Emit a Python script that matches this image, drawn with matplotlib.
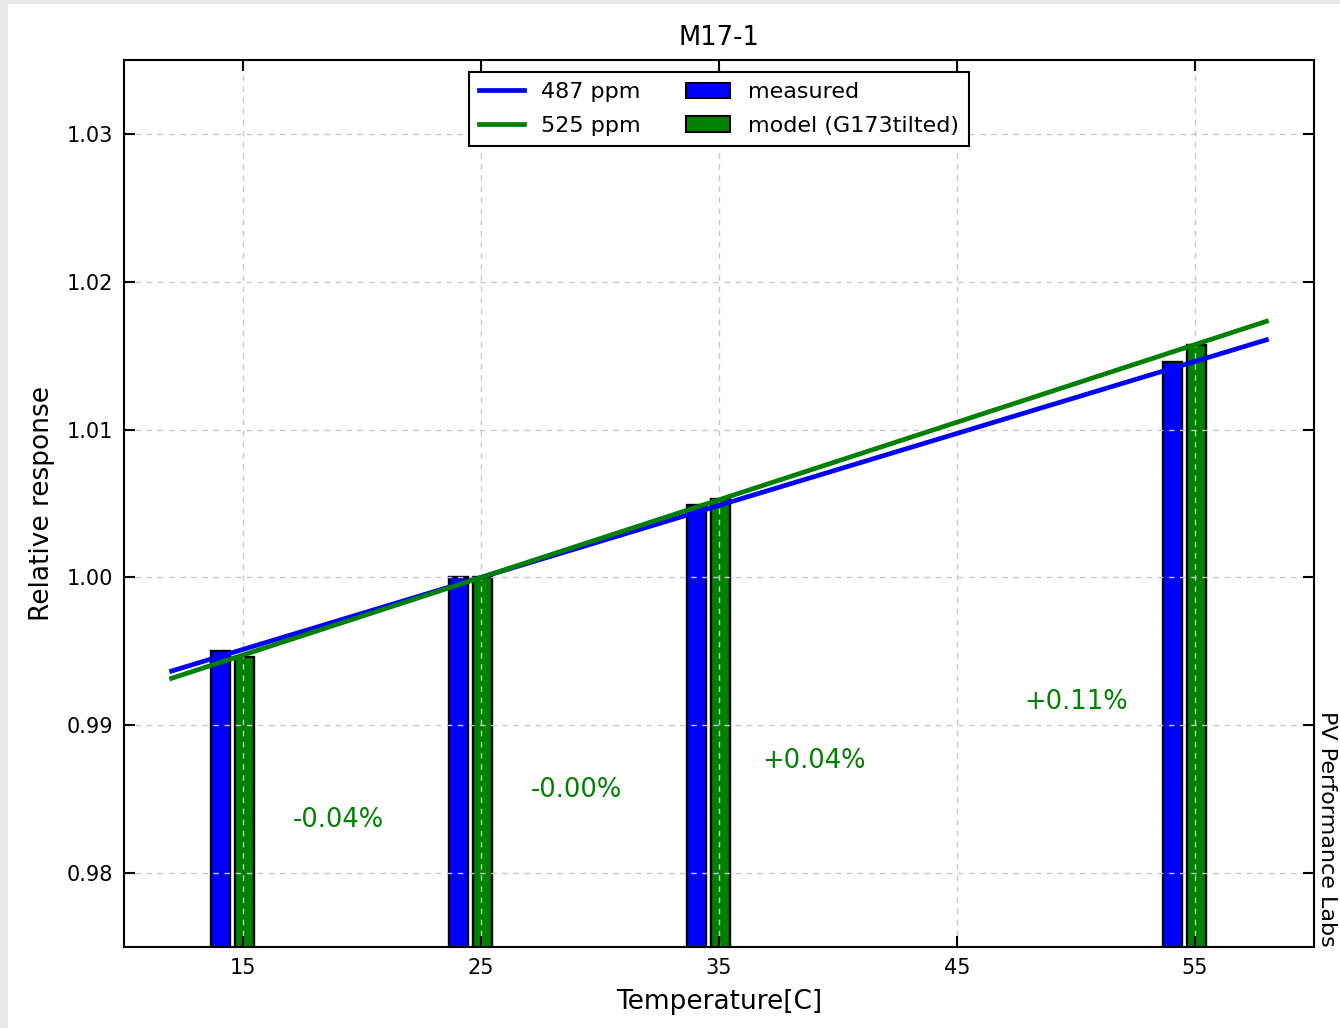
import numpy as np
import matplotlib
matplotlib.use("Agg")
import matplotlib.pyplot as plt
from matplotlib.patches import Rectangle, Patch
from matplotlib.lines import Line2D

# Measured vs. modelled relative response at each test temperature
temperatures = [15, 25, 35, 55]
measured = [0.9950, 1.0000, 1.00487, 1.01455]
model = [0.99465, 1.0000, 1.00528, 1.0157]
diff_labels = ["-0.04%", "-0.00%", "+0.04%", "+0.11%"]
label_x = [19, 29, 39, 50]
label_y = [0.9836, 0.9856, 0.9876, 0.9916]

# Linear temperature coefficients (ppm per degree), referenced to 25 C
coef_labels = ["487 ppm", "525 ppm"]
coef_ppm = [487, 525]
fit_range = [12, 58]

x_ticks = [15, 25, 35, 45, 55]
y_ticks = [0.98, 0.99, 1.00, 1.01, 1.02, 1.03]

plt.rcParams["font.family"] = ["DejaVu Sans"]

fig = plt.figure(figsize=(13.4, 10.28), dpi=100, facecolor="#e8e8e8")
fig.patches.append(Rectangle((8 / 1340, 0), 1 - 8 / 1340, 1 - 4 / 1028,
                             transform=fig.transFigure, facecolor="white",
                             edgecolor="none", zorder=-10))

ax = fig.add_axes([124 / 1340, 81 / 1028, 1190 / 1340, 887 / 1028])

bar_w = 0.8
t = np.array(temperatures, dtype=float)
ax.bar(t - 0.95, measured, width=bar_w, color="#0000ff", edgecolor="black",
       linewidth=1.7, zorder=2)
ax.bar(t + 0.05, model, width=bar_w, color="#008000", edgecolor="black",
       linewidth=1.7, zorder=2)

tt = np.array(fit_range, dtype=float)
line_colors = ["#0000ff", "#008000"]
for ppm, col in zip(coef_ppm, line_colors):
    ax.plot(tt, 1 + ppm * 1e-6 * (tt - 25), color=col, linewidth=3.4, zorder=3)

for lx, ly, s in zip(label_x, label_y, diff_labels):
    ax.text(lx, ly, s, color="#008000", fontsize=18.5, ha="center",
            va="center", zorder=4)

ax.set_xlim(10, 60)
ax.set_ylim(0.975, 1.035)
ax.set_xticks(x_ticks)
ax.set_yticks(y_ticks)
ax.set_yticklabels([f"{v:.2f}" for v in y_ticks])
ax.tick_params(direction="in", length=8, width=1.5, top=True, right=True,
               labelsize=15, pad=8)
for sp in ax.spines.values():
    sp.set_linewidth(1.5)

ax.grid(True, linestyle=(0, (4, 4)), color="#c8c8c8", linewidth=1.0)
ax.set_axisbelow(False)

ax.set_title("M17-1", fontsize=18.5, pad=11)
ax.set_xlabel("Temperature[C]", fontsize=19, labelpad=8)
ax.set_ylabel("Relative response", fontsize=19, labelpad=8)

handles = [
    Line2D([], [], color=line_colors[0], linewidth=3.4),
    Line2D([], [], color=line_colors[1], linewidth=3.4),
    Patch(facecolor="#0000ff", edgecolor="black", linewidth=1.5),
    Patch(facecolor="#008000", edgecolor="black", linewidth=1.5),
]
labels = coef_labels + ["measured", "model (G173tilted)"]
leg = ax.legend(handles, labels, loc="upper center", ncol=2, fontsize=16,
                fancybox=False, framealpha=1, edgecolor="black",
                borderaxespad=0.55, handlelength=2.0, columnspacing=2.0,
                labelspacing=0.6, borderpad=0.45)
leg.get_frame().set_linewidth(1.5)
leg.set_zorder(5)

fig.text(1327 / 1340, 81 / 1028, "PV Performance Labs", rotation=270,
         ha="center", va="bottom", fontsize=16)

fig.savefig("out.png", dpi=100, facecolor=fig.get_facecolor())
